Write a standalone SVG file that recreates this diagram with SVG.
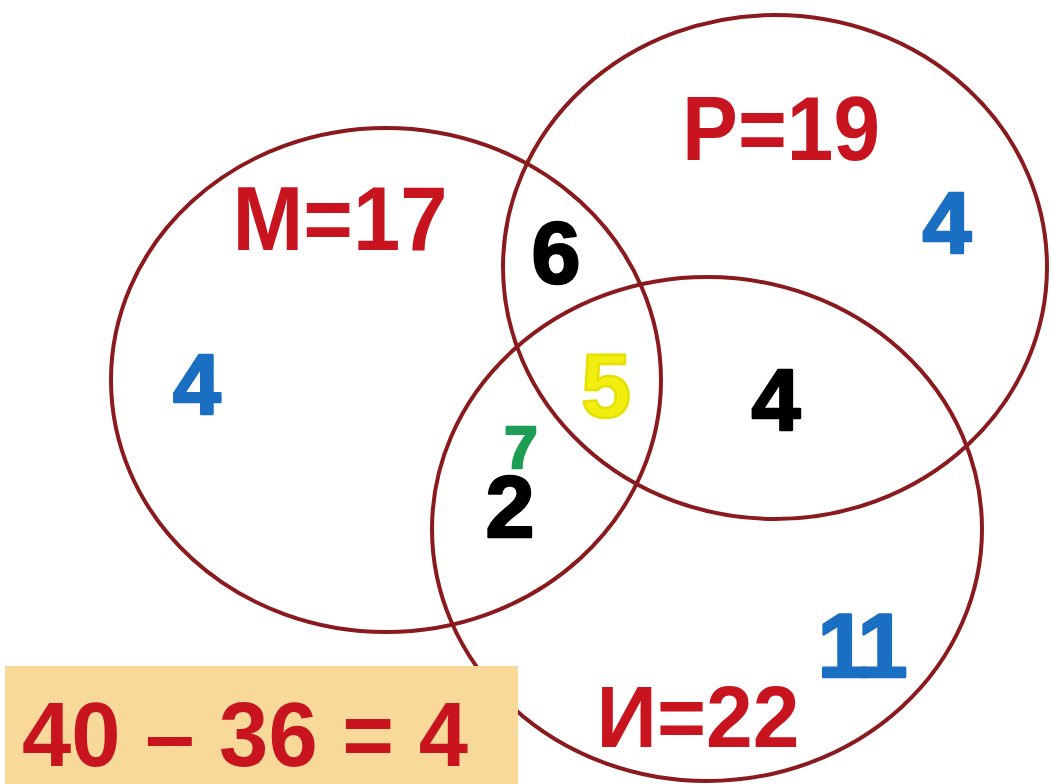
<svg xmlns="http://www.w3.org/2000/svg" width="1051" height="784" viewBox="0 0 1051 784">
<style>
.c{fill:none;stroke:#8B1A1E;stroke-width:4}
.t{font-family:"Liberation Sans",Arial,sans-serif;font-weight:bold;text-anchor:middle}
.lbl{fill:#C8141E}
.n{stroke-width:2.5;stroke-linejoin:round}
.blue{fill:#1B6FC2;stroke:#1B6FC2}
.blk{fill:#000;stroke:#000}
.yel{fill:#F2EE10;stroke:#E6E000}
.grn{fill:#1E9E55;stroke:#1E9E55}
</style>
<rect width="1051" height="784" fill="#FFFFFF"/>
<g id="connectors"></g>
<g id="set-M"><ellipse class="c" cx="386" cy="380" rx="275" ry="252"/></g>
<g id="set-P"><ellipse class="c" cx="775" cy="267" rx="272" ry="252"/></g>
<g id="set-I"><ellipse class="c" cx="707" cy="529" rx="275" ry="252"/></g>
<g id="label-M"><text class="t lbl" x="340" y="250" font-size="90" textLength="215" lengthAdjust="spacingAndGlyphs">M=17</text></g>
<g id="label-P"><text class="t lbl" x="781" y="160" font-size="90" textLength="198" lengthAdjust="spacingAndGlyphs">P=19</text></g>
<g id="label-I"><text class="t lbl" x="698" y="747" font-size="87" textLength="203" lengthAdjust="spacingAndGlyphs">И=22</text></g>
<g id="only-M"><text class="t n blue" x="197" y="414" font-size="86">4</text></g>
<g id="only-P"><text class="t n blue" x="947" y="253" font-size="88">4</text></g>
<g id="only-I"><text class="t n blue" x="860" y="677" font-size="90" letter-spacing="-5">11</text></g>
<g id="M-P"><text class="t n blk" x="556" y="283" font-size="88">6</text></g>
<g id="P-I"><text class="t n blk" x="776" y="430" font-size="88">4</text></g>
<g id="M-P-I"><text class="t n yel" x="606" y="417" font-size="90">5</text></g>
<g id="M-I-green"><text class="t n grn" x="521" y="468" font-size="60">7</text></g>
<g id="M-I"><text class="t n blk" x="510" y="537" font-size="88">2</text></g>
<g id="result">
<rect x="5" y="666" width="513" height="118" fill="#F8D99A"/>
<text class="t lbl" x="245" y="766" font-size="90" textLength="446" lengthAdjust="spacingAndGlyphs">40 – 36 = 4</text>
</g>
</svg>
